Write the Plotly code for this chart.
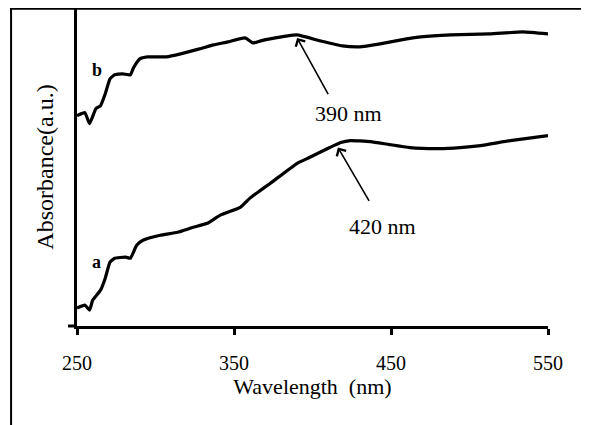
import plotly.graph_objects as go

# Wavelength (nm) and absorbance (a.u., arbitrary offset units)
wl_b = [250, 255, 258, 262, 265, 268, 271, 274, 279, 284, 286, 290, 295, 307, 316, 328,
        337, 346, 357, 362, 367, 373, 390, 405, 419, 430, 443, 460, 469, 488, 513, 534, 550]
abs_b = [2.11, 2.14, 2.03, 2.18, 2.21, 2.33, 2.48, 2.52, 2.53, 2.52, 2.59, 2.68, 2.70, 2.70,
         2.73, 2.78, 2.82, 2.85, 2.89, 2.84, 2.86, 2.88, 2.92, 2.86, 2.81, 2.80, 2.83, 2.88,
         2.90, 2.92, 2.93, 2.95, 2.93]

wl_a = [250, 255, 258, 260, 265, 268, 271, 274, 281, 284, 288, 292, 303, 314, 324, 333,
        341, 354, 360, 365, 373, 390, 398, 411, 418, 424, 437, 449, 462, 481, 494, 507, 526, 550]
abs_a = [0.18, 0.21, 0.16, 0.26, 0.36, 0.48, 0.64, 0.68, 0.69, 0.68, 0.81, 0.86, 0.91, 0.94,
         0.99, 1.03, 1.11, 1.19, 1.28, 1.34, 1.43, 1.63, 1.69, 1.79, 1.84, 1.86, 1.85, 1.82,
         1.79, 1.78, 1.79, 1.81, 1.86, 1.91]

x_ticks = [250, 350, 450, 550]
peak_labels = ["390 nm", "420 nm"]

FONT = "Liberation Serif, Times New Roman, serif"

fig = go.Figure()
fig.add_trace(go.Scatter(x=wl_b, y=abs_b, mode="lines",
                         line=dict(color="black", width=3.2, shape="spline", smoothing=0.4),
                         showlegend=False, hoverinfo="skip"))
fig.add_trace(go.Scatter(x=wl_a, y=abs_a, mode="lines",
                         line=dict(color="black", width=3.2, shape="spline", smoothing=0.4),
                         showlegend=False, hoverinfo="skip"))

fig.update_layout(
    width=589, height=425,
    margin=dict(l=69, r=49, t=0, b=107),
    paper_bgcolor="white", plot_bgcolor="white",
    font=dict(family=FONT, color="black", size=20),
    xaxis=dict(range=[250, 550], tickvals=x_ticks, ticktext=[str(v) for v in x_ticks],
               showline=True, linecolor="black", linewidth=3, ticks="outside",
               ticklen=6, tickwidth=3, tickcolor="black", showgrid=False, zeroline=False,
               tickfont=dict(size=20), ticklabelstandoff=11, automargin=False,
               title=dict(text="Wavelength  (nm)", font=dict(size=22), standoff=5)),
    yaxis=dict(range=[0, 3.19], showline=True, linecolor="black", linewidth=3,
               showticklabels=False, ticks="", showgrid=False, zeroline=False,
               automargin=False,
               title=dict(text="Absorbance(a.u.)", font=dict(size=24), standoff=14)),
)

# arrows
arrow_tails = [(410.5, 2.31), (436.6, 1.24)]
arrow_tips = [(390.2, 2.89), (416.2, 1.79)]
label_pos = [(423.2, 2.13), (444.9, 1.00)]
for (tx, ty), (hx, hy), (lx, ly), lab in zip(arrow_tails, arrow_tips, label_pos, peak_labels):
    fig.add_annotation(x=hx, y=hy, ax=tx, ay=ty, axref="x", ayref="y", xref="x", yref="y",
                       text="", showarrow=True, arrowhead=4, arrowsize=1.3, arrowwidth=1.6,
                       arrowcolor="black")
    fig.add_annotation(x=lx, y=ly, xref="x", yref="y", text=lab, showarrow=False,
                       font=dict(size=22, family=FONT))

fig.add_annotation(x=262.7, y=2.57, xref="x", yref="y", text="<b>b</b>", showarrow=False,
                   font=dict(size=18, family=FONT))
fig.add_annotation(x=262.1, y=0.64, xref="x", yref="y", text="<b>a</b>", showarrow=False,
                   font=dict(size=18, family=FONT))

# x-axis extension left of the y-axis, and picture frame lines
fig.add_shape(type="line", xref="paper", yref="paper", x0=-0.019, x1=0, y0=0, y1=0,
              line=dict(color="black", width=3))
fig.add_shape(type="line", xref="paper", yref="paper", x0=-0.142, x1=1.2, y0=0.998, y1=0.998,
              line=dict(color="black", width=2))
fig.add_shape(type="line", xref="paper", yref="paper", x0=-0.140, x1=-0.140, y0=1, y1=-0.4,
              line=dict(color="black", width=2))

fig.write_html("out.html")
